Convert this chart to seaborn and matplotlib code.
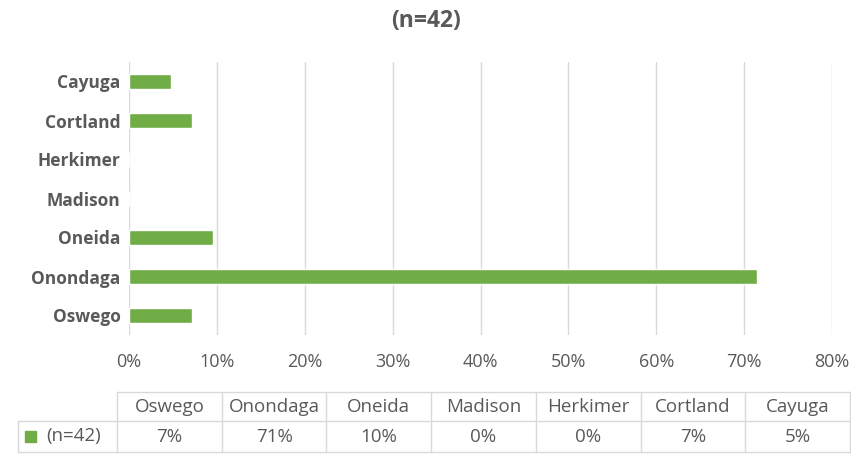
import matplotlib
matplotlib.use("Agg")
import matplotlib.pyplot as plt
from matplotlib.lines import Line2D
import seaborn as sns
import pandas as pd

counties = ["Oswego", "Onondaga", "Oneida", "Madison", "Herkimer", "Cortland", "Cayuga"]
values = [7.14, 71.43, 9.52, 0.0, 0.0, 7.14, 4.76]
series_name = "(n=42)"
xticks = [0, 10, 20, 30, 40, 50, 60, 70, 80]

sns.set_theme(style="white")
plt.rcParams['font.family'] = ['Open Sans', 'DejaVu Sans']

GRAY = "#595959"
GREEN = "#70AD47"
GRID = "#D9D9D9"

df = pd.DataFrame({"county": counties, "value": values})
order = list(reversed(counties))

W, H = 851, 455
fig = plt.figure(figsize=(W / 100, H / 100), dpi=100)
ax = fig.add_axes([129 / W, (H - 335) / H, (832 - 129) / W, (335 - 62) / H])

sns.barplot(data=df, x="value", y="county", order=order, color=GREEN,
            saturation=1, width=0.4, ax=ax, orient="h")

ax.set_xlim(0, 80)
ax.set_xticks(xticks)
ax.set_xticklabels([f"{t}%" for t in xticks], color=GRAY, fontsize=13)
ax.tick_params(axis="y", labelsize=12.5, colors=GRAY, length=0, pad=6)
ax.tick_params(axis="x", length=0, pad=13)
for lab in ax.get_yticklabels():
    lab.set_fontweight("bold")
for lab in ax.get_xticklabels():
    lab.set_color(GRAY)
ax.set_xlabel("")
ax.set_ylabel("")
ax.grid(axis="x", color=GRID, linewidth=1)
ax.set_axisbelow(True)
for s in ax.spines.values():
    s.set_visible(False)

fig.text(0.5, 1 - 21 / H, series_name, ha="center", va="center",
         fontsize=16.5, fontweight="bold", color=GRAY)

# data table
x0, x1 = 117, 850
lx0 = 18
y_top, y_mid, y_bot = 392, 421, 452
ncol = len(counties)
cw = (x1 - x0) / ncol

def fx(x):
    return x / W

def fy(y):
    return 1 - y / H

lines = []
lines.append(((x0, x1), (y_top, y_top)))
lines.append(((lx0, x1), (y_mid, y_mid)))
lines.append(((lx0, x1), (y_bot, y_bot)))
lines.append(((lx0, lx0), (y_mid, y_bot)))
for i in range(ncol + 1):
    xx = x0 + i * cw
    lines.append(((xx, xx), (y_top, y_bot)))
for (xs, ys) in lines:
    fig.add_artist(Line2D([fx(xs[0]), fx(xs[1])], [fy(ys[0]), fy(ys[1])],
                          color=GRID, linewidth=1, transform=fig.transFigure))

for i, (c, v) in enumerate(zip(counties, values)):
    cx = x0 + (i + 0.5) * cw
    fig.text(fx(cx), fy((y_top + y_mid) / 2), c, ha="center", va="center",
             fontsize=13.5, color=GRAY)
    fig.text(fx(cx), fy((y_mid + y_bot) / 2), f"{v:.0f}%", ha="center", va="center",
             fontsize=13.5, color=GRAY)

fig.add_artist(plt.Rectangle((fx(25), fy(442)), 11 / W, 11 / H, color=GREEN,
                             transform=fig.transFigure))
fig.text(fx(46), fy((y_mid + y_bot) / 2), series_name, ha="left", va="center",
         fontsize=13.5, color=GRAY)

fig.savefig("out.png", dpi=100)
